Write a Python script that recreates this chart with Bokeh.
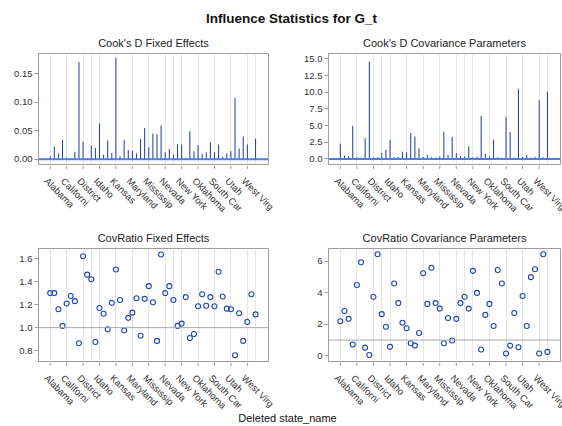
import math
from bokeh.plotting import figure
from bokeh.layouts import column, row
from bokeh.models import Range1d, FixedTicker, Span, PrintfTickFormatter, Grid
from bokeh.core.properties import value
from bokeh.embed import file_html
from bokeh.resources import INLINE

# Deleted observation (state) for each influence statistic
states = [
    "Alabama", "Alaska", "Arizona", "Arkansas", "California", "Colorado",
    "Connecticut", "Delaware", "District of Columbia", "Florida", "Georgia",
    "Hawaii", "Idaho", "Illinois", "Indiana", "Iowa", "Kansas", "Kentucky",
    "Louisiana", "Maine", "Maryland", "Massachusetts", "Michigan", "Minnesota",
    "Mississippi", "Missouri", "Montana", "Nebraska", "Nevada", "New Hampshire",
    "New Jersey", "New Mexico", "New York", "North Carolina", "North Dakota",
    "Ohio", "Oklahoma", "Oregon", "Pennsylvania", "Rhode Island",
    "South Carolina", "South Dakota", "Tennessee", "Texas", "Utah", "Vermont",
    "Virginia", "Washington", "West Virginia", "Wisconsin", "Wyoming",
]

cooks_d_fixed = [
    0.005, 0.022, 0.010, 0.034, 0.003, 0.001, 0.013, 0.171, 0.031, 0.002,
    0.024, 0.020, 0.063, 0.008, 0.033, 0.011, 0.178, 0.005, 0.034, 0.016,
    0.015, 0.010, 0.035, 0.055, 0.021, 0.045, 0.044, 0.059, 0.012, 0.018,
    0.008, 0.026, 0.026, 0.002, 0.049, 0.014, 0.025, 0.009, 0.012, 0.030,
    0.012, 0.026, 0.004, 0.010, 0.014, 0.108, 0.019, 0.040, 0.026, 0.001,
    0.036,
]

cooks_d_cov = [
    2.3, 0.5, 0.4, 4.95, 0.25, 0.2, 3.1, 14.6, 0.2, 0.25,
    0.9, 1.4, 2.9, 0.25, 0.3, 1.1, 1.0, 3.9, 3.35, 1.6,
    0.3, 0.6, 0.25, 0.2, 0.35, 4.1, 0.6, 3.3, 0.85, 0.4,
    0.35, 1.9, 0.25, 0.35, 6.45, 0.75, 0.35, 2.9, 0.25, 0.2,
    6.3, 4.05, 0.2, 10.5, 0.3, 0.6, 0.2, 0.3, 8.8, 0.25,
    10.1,
]

covratio_fixed = [
    1.30, 1.30, 1.16, 1.015, 1.21, 1.275, 1.23, 0.865, 1.62, 1.46,
    1.42, 0.875, 1.17, 1.12, 0.985, 1.215, 1.505, 1.24, 0.975, 1.085,
    1.13, 1.255, 0.93, 1.25, 1.36, 1.22, 0.885, 1.635, 1.30, 1.36,
    1.24, 1.015, 1.035, 1.265, 0.91, 0.945, 1.185, 1.29, 1.19, 1.265,
    1.185, 1.485, 1.27, 1.165, 1.16, 0.76, 1.125, 0.885, 1.05, 1.29,
    1.115,
]

covratio_cov = [
    2.2, 2.85, 2.35, 0.72, 4.5, 5.95, 0.52, 0.05, 3.75, 6.45,
    2.65, 1.85, 0.57, 4.6, 3.35, 2.1, 1.75, 0.8, 0.65, 1.45,
    5.25, 3.3, 5.6, 3.35, 3.0, 0.8, 2.4, 0.97, 2.35, 3.35,
    3.75, 3.0, 5.4, 4.0, 0.4, 2.6, 3.3, 1.9, 5.45, 4.6,
    0.15, 0.65, 2.72, 0.55, 3.8, 1.9, 5.0, 5.5, 0.15, 6.45,
    0.25,
]

labeled_every = 4
idx = list(range(len(states)))
short_names = [s[:9].strip() for s in states]
tick_idx = list(range(0, len(states), labeled_every))
tick_names = [short_names[t] for t in tick_idx]

FONT = "Liberation Sans"
NEEDLE = "#1a3ca6"
BASELINE = "#5b7cc9"
MARKER = "#1f46b4"
FRAME = "#9c9c9c"
GRID = "#e6e6e6"
TEXT = "#333333"

TOTAL_W = 562
X_START, X_END = -2.85, 53.15
# (canvas width, left border, right border) of the left and right columns
COLS = {"left": (280, 38, 12), "right": (282, 48, 2)}


def panel(title, col, top, frame_h, yr, yticks, yfmt):
    w, left, right = COLS[col]
    p = figure(width=w, height=top + frame_h + 1, output_backend="svg",
               toolbar_location=None, x_axis_location=None,
               x_range=Range1d(X_START, X_END), y_range=Range1d(*yr),
               min_border_left=left, min_border_right=right,
               min_border_top=top, min_border_bottom=1, title=title)
    p.title.align = "center"
    p.title.text_font = FONT
    p.title.text_font_size = "11px"
    p.title.text_font_style = "normal"
    p.title.text_color = "#222222"
    p.title.standoff = 9
    p.outline_line_color = FRAME
    p.outline_line_width = 1
    p.background_fill_color = "white"
    p.border_fill_color = "white"

    p.add_layout(Grid(dimension=0, ticker=FixedTicker(ticks=tick_idx),
                      grid_line_color=GRID))
    p.ygrid.visible = False
    ax = p.yaxis[0]
    ax.ticker = FixedTicker(ticks=yticks)
    ax.formatter = PrintfTickFormatter(format=yfmt)
    ax.axis_line_color = FRAME
    ax.major_tick_line_color = FRAME
    ax.major_tick_in = 0
    ax.major_tick_out = 4
    ax.minor_tick_line_color = None
    ax.major_label_text_font = FONT
    ax.major_label_text_font_size = "9.5px"
    ax.major_label_text_color = TEXT
    ax.major_label_standoff = 2
    return p


def needles(p, vals):
    p.segment(x0=idx, y0=[0] * len(vals), x1=idx, y1=vals,
              line_color=NEEDLE, line_width=1)
    p.add_layout(Span(location=0, dimension="width",
                      line_color=BASELINE, line_width=2))


def circles(p, vals):
    p.add_layout(Span(location=1, dimension="width",
                      line_color="#a8a8a8", line_width=1))
    p.scatter(idx, vals, marker="circle", size=5, fill_color=None,
              line_color=MARKER, line_width=1.1)


def category_axis_strip(h, label_y, axis_title=None):
    """Ticks and rotated category names under a row of two panels.

    The strip spans the full width, so names may run past the panel
    frames and are only cut at the page edge."""
    f = figure(width=TOTAL_W, height=h, output_backend="svg",
               toolbar_location=None, x_axis_location=None,
               y_axis_location=None, x_range=Range1d(0, TOTAL_W),
               y_range=Range1d(h, 0), min_border=0)
    f.grid.visible = False
    f.outline_line_color = None
    offset = 0
    for name in ("left", "right"):
        w, left, right = COLS[name]
        frame_w = w - left - right
        units_per_px = (X_END - X_START) / frame_w
        start = X_START - (offset + left) * units_per_px
        f.extra_x_ranges[name] = Range1d(start, start + TOTAL_W * units_per_px)
        offset += w
        f.segment(x0=tick_idx, y0=[0] * len(tick_idx), x1=tick_idx,
                  y1=[3.5] * len(tick_idx), x_range_name=name,
                  line_color=FRAME, line_width=1)
        f.text(x=tick_idx, y=[label_y] * len(tick_idx), text=tick_names,
               x_range_name=name, angle=-math.pi / 4, text_align="left",
               text_baseline="top", text_font=value(FONT),
               text_font_size="9.5px", text_color=TEXT)
    if axis_title:
        f.text(x=[287], y=[h - 9], text=[axis_title], text_align="center",
               text_baseline="middle", text_font=value(FONT),
               text_font_size="11px", text_color="#111111")
    return f


p1 = panel("Cook's D Fixed Effects", "left", 23, 111,
           (-0.0093, 0.186), [0, 0.05, 0.10, 0.15], "%.2f")
needles(p1, cooks_d_fixed)

p2 = panel("Cook's D Covariance Parameters", "right", 23, 111,
           (-0.83, 15.8), [0, 2.5, 5, 7.5, 10, 12.5, 15], "%.1f")
needles(p2, cooks_d_cov)

p3 = panel("CovRatio Fixed Effects", "left", 22, 114,
           (0.706, 1.687), [0.8, 1.0, 1.2, 1.4, 1.6], "%.1f")
circles(p3, covratio_fixed)

p4 = panel("CovRatio Covariance Parameters", "right", 22, 114,
           (-0.36, 6.82), [0, 2, 4, 6], "%d")
circles(p4, covratio_cov)

title_strip = figure(width=TOTAL_W, height=30, output_backend="svg",
                     toolbar_location=None, x_axis_location=None,
                     y_axis_location=None, x_range=Range1d(0, TOTAL_W),
                     y_range=Range1d(30, 0), min_border=0)
title_strip.grid.visible = False
title_strip.outline_line_color = None
title_strip.text(x=[291], y=[18], text=["Influence Statistics for G_t"],
                 text_align="center", text_baseline="middle",
                 text_font=value(FONT), text_font_size="13.5px",
                 text_font_style="bold", text_color="#111111")

strip1 = category_axis_strip(60, 10)
strip2 = category_axis_strip(64, 10, "Deleted state_name")

layout = column(title_strip, row(p1, p2), strip1, row(p3, p4), strip2)

open("out.html", "w").write(file_html(layout, INLINE))
